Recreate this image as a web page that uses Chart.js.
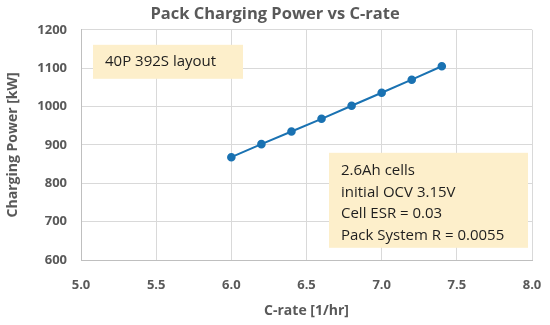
<!DOCTYPE html>
<html><head><meta charset="utf-8">
<script src="https://cdn.jsdelivr.net/npm/chart.js@4"></script>
<style>html,body{margin:0;padding:0;background:#fff}#wrap{width:550px;height:325px}</style>
</head><body><div id="wrap"><canvas id="c" width="550" height="325"></canvas></div>
<script>
const cRate = [6.0, 6.2, 6.4, 6.6, 6.8, 7.0, 7.2, 7.4];
const chargingPower = [868, 902, 935, 968, 1002, 1036, 1070, 1105];
const xTicks = [5.0, 5.5, 6.0, 6.5, 7.0, 7.5, 8.0];
const yTicks = [600, 700, 800, 900, 1000, 1100, 1200];
const noteLayout = ["40P 392S layout"];
const noteParams = ["2.6Ah cells", "initial OCV 3.15V", "Cell ESR = 0.03", "Pack System R = 0.0055"];

const FONT = "'Open Sans', sans-serif";
const GREY = '#595959';

const notesPlugin = {
  id: 'notes',
  afterDatasetsDraw(chart) {
    const ctx = chart.ctx;
    const a = chart.chartArea;
    function box(x, y, w, h, lines, tx, ty, lh) {
      ctx.save();
      ctx.fillStyle = '#fdefcb';
      ctx.fillRect(x, y, w, h);
      ctx.fillStyle = '#1e1e1e';
      ctx.font = '15px ' + FONT;
      ctx.textBaseline = 'middle';
      ctx.textAlign = 'left';
      lines.forEach((t, i) => ctx.fillText(t, tx, ty + i * lh));
      ctx.restore();
    }
    box(a.left + 12, a.top + 15, 150, 34, noteLayout, a.left + 24, a.top + 32, 0);
    box(a.left + 248, a.top + 123, 199, 95, noteParams, a.left + 260, a.top + 141, 21.5);
  }
};

new Chart(document.getElementById('c'), {
  type: 'scatter',
  data: {
    datasets: [{
      data: cRate.map((x, i) => ({x: x, y: chargingPower[i]})),
      showLine: true,
      borderColor: '#1a72b2',
      backgroundColor: '#1a72b2',
      borderWidth: 2,
      pointRadius: 3.3,
      pointHoverRadius: 3.3
    }]
  },
  options: {
    responsive: false,
    animation: false,
    devicePixelRatio: 1,
    layout: {padding: 0},
    plugins: {
      legend: {display: false},
      tooltip: {enabled: false},
      title: {
        display: true,
        text: 'Pack Charging Power vs C-rate',
        color: GREY,
        font: {family: FONT, size: 16.5, weight: 'bold'},
        padding: {top: 4, bottom: 6}
      }
    },
    scales: {
      x: {
        type: 'linear',
        min: 5, max: 8,
        afterBuildTicks(s) { s.ticks = xTicks.map(v => ({value: v})); },
        afterFit(s) { s.height = 65; s.paddingRight = 18; s.paddingLeft = 0; },
        grid: {color: '#d9d9d9', lineWidth: 1, drawTicks: false},
        border: {color: '#bfbfbf'},
        ticks: {
          color: GREY, padding: 17,
          font: {family: FONT, size: 13, weight: 'bold'},
          callback: v => Number(v).toFixed(1)
        },
        title: {
          display: true, text: 'C-rate [1/hr]', color: GREY,
          font: {family: FONT, size: 14, weight: 'bold'},
          padding: {top: 4, bottom: 6}
        }
      },
      y: {
        min: 600, max: 1200,
        afterBuildTicks(s) { s.ticks = yTicks.map(v => ({value: v})); },
        afterFit(s) { s.width = 81; s.paddingTop = 0; s.paddingBottom = 0; },
        grid: {color: '#d9d9d9', lineWidth: 1, drawTicks: false},
        border: {color: '#bfbfbf'},
        ticks: {
          color: GREY, padding: 14,
          font: {family: FONT, size: 13, weight: 'bold'},
          callback: v => String(v)
        },
        title: {
          display: true, text: 'Charging Power [kW]', color: GREY,
          font: {family: FONT, size: 14, weight: 'bold'},
          padding: {top: 5, bottom: 4}
        }
      }
    }
  },
  plugins: [notesPlugin]
});
</script>
</body></html>
